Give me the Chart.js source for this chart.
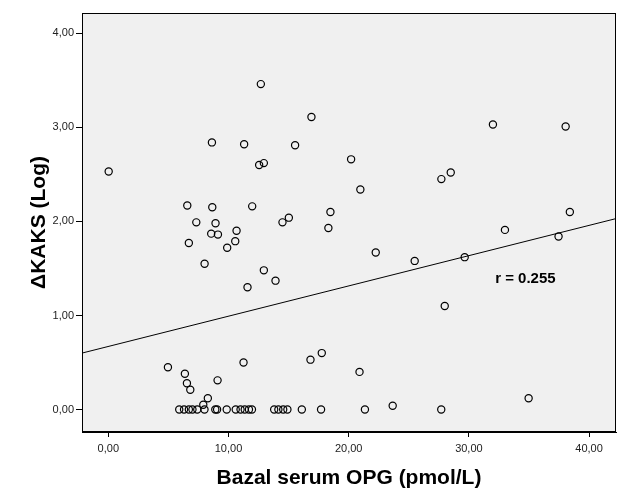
<!DOCTYPE html>
<html>
<head>
<meta charset="utf-8">
<script src="https://cdn.jsdelivr.net/npm/chart.js@4"></script>
<style>
  html, body { margin: 0; padding: 0; background: #ffffff; }
  #wrap { width: 629px; height: 504px; }
</style>
</head>
<body>
<div id="wrap"><canvas id="c" width="629" height="504"></canvas></div>
<script>
// ---- Data ----
const opgX = [
  5.9, 6.3, 6.7, 7.0, 7.4, 8.0, 8.9, 9.05, 9.85, 10.6, 11.0, 11.35, 11.7, 11.95,
  13.8, 14.15, 14.55, 14.9, 16.1, 17.7, 21.35, 27.7,
  4.96, 6.37, 6.54, 6.82, 9.09, 8.28, 7.9, 11.25, 16.82, 17.76, 20.9, 23.66, 34.97,
  0.03, 8.62, 11.3, 12.55, 12.94, 6.57, 8.65, 11.97, 7.32, 8.92, 8.56, 9.12, 10.67,
  10.56, 6.7, 9.89, 8.01, 12.94, 13.91, 11.58, 12.69, 16.9, 15.54, 20.2, 20.97,
  14.49, 15.02, 18.48, 18.31, 22.25, 25.49, 32.0, 38.05, 27.71, 28.49, 38.4, 33.0,
  37.46, 29.65, 27.99
];
const kaksY = [
  0, 0, 0, 0, 0, 0, 0, 0, 0, 0, 0, 0, 0, 0,
  0, 0, 0, 0, 0, 0, 0, 0,
  0.45, 0.38, 0.28, 0.21, 0.31, 0.12, 0.05, 0.50, 0.53, 0.60, 0.40, 0.04, 0.12,
  2.53, 2.84, 2.82, 2.60, 2.62, 2.17, 2.15, 2.16, 1.99, 1.98, 1.87, 1.86, 1.90,
  1.79, 1.77, 1.72, 1.55, 1.48, 1.37, 1.30, 3.46, 3.11, 2.81, 2.66, 2.34,
  1.99, 2.04, 2.10, 1.93, 1.67, 1.58, 3.03, 3.01, 2.45, 2.52, 2.10, 1.91,
  1.84, 1.62, 1.10
];
// fit line end points
const fitX = [-2.19, 42.24];
const fitY = [0.60, 2.03];
const xTicks = [0, 10, 20, 30, 40];
const yTicks = [0, 1, 2, 3, 4];
const rLabel = 'r = 0.255';
const xTitle = 'Bazal serum OPG (pmol/L)';
const yTitle = 'ΔKAKS (Log)';

const fmt = v => v.toFixed(2).replace('.', ',');

const scatterPts = opgX.map((x, i) => ({ x: x, y: kaksY[i] }));
const linePts = fitX.map((x, i) => ({ x: x, y: fitY[i] }));

const frame = {
  id: 'frame',
  beforeDatasetsDraw(chart) {
    const { ctx, chartArea: a } = chart;
    ctx.save();
    ctx.fillStyle = '#f0f0f0';
    ctx.fillRect(a.left, a.top, a.right - a.left, a.bottom - a.top);
    ctx.restore();
  },
  afterDatasetsDraw(chart) {
    const { ctx, chartArea: a, scales } = chart;
    ctx.save();
    ctx.strokeStyle = '#000';
    ctx.lineWidth = 1;
    ctx.strokeRect(Math.round(a.left) + 0.5, Math.round(a.top) + 0.5,
                   Math.round(a.right - a.left) - 1, Math.round(a.bottom - a.top) - 1);
    // r annotation
    ctx.fillStyle = '#000';
    ctx.font = 'bold 15px "Liberation Sans", Arial, sans-serif';
    ctx.textAlign = 'center';
    ctx.textBaseline = 'alphabetic';
    ctx.fillText(rLabel, scales.x.getPixelForValue(34.7), scales.y.getPixelForValue(1.34));
    ctx.restore();
  }
};

new Chart(document.getElementById('c'), {
  type: 'scatter',
  data: {
    datasets: [
      {
        type: 'line',
        data: linePts,
        borderColor: '#000',
        borderWidth: 1,
        pointRadius: 0,
        fill: false,
        order: 2
      },
      {
        data: scatterPts,
        pointStyle: 'circle',
        pointRadius: 3.6,
        pointBorderWidth: 1.2,
        pointBorderColor: '#000',
        pointBackgroundColor: 'rgba(0,0,0,0)',
        order: 1
      }
    ]
  },
  options: {
    responsive: false,
    animation: false,
    devicePixelRatio: 1,
    layout: { padding: { top: 13, right: 13, left: 0, bottom: 0 } },
    plugins: { legend: { display: false }, tooltip: { enabled: false } },
    scales: {
      x: {
        type: 'linear',
        min: -2.19,
        max: 42.24,
        afterFit(s) { s.height = 72; },
        afterBuildTicks(s) { s.ticks = xTicks.map(v => ({ value: v })); },
        border: { display: true, color: '#000', width: 1 },
        grid: { drawOnChartArea: false, drawTicks: true, tickLength: 5, tickColor: '#000', lineWidth: 1 },
        ticks: {
          padding: 5,
          color: '#222',
          font: { family: '"Liberation Sans", Arial, sans-serif', size: 11 },
          callback: v => fmt(v),
          maxRotation: 0
        },
        title: {
          display: true,
          text: xTitle,
          color: '#000',
          font: { family: '"Liberation Sans", Arial, sans-serif', size: 21, weight: 'bold' },
          padding: { top: 4, bottom: 13 }
        }
      },
      y: {
        type: 'linear',
        min: -0.239,
        max: 4.216,
        afterFit(s) { s.width = 82; },
        afterBuildTicks(s) { s.ticks = yTicks.map(v => ({ value: v })); },
        border: { display: true, color: '#000', width: 1 },
        grid: { drawOnChartArea: false, drawTicks: true, tickLength: 6, tickColor: '#000', lineWidth: 1 },
        ticks: {
          padding: 2,
          color: '#222',
          font: { family: '"Liberation Sans", Arial, sans-serif', size: 11 },
          callback: v => fmt(v)
        },
        title: {
          display: true,
          text: yTitle,
          color: '#000',
          font: { family: '"Liberation Sans", Arial, sans-serif', size: 21, weight: 'bold' },
          padding: { top: 27, bottom: 4 }
        }
      }
    }
  },
  plugins: [frame]
});
</script>
</body>
</html>
